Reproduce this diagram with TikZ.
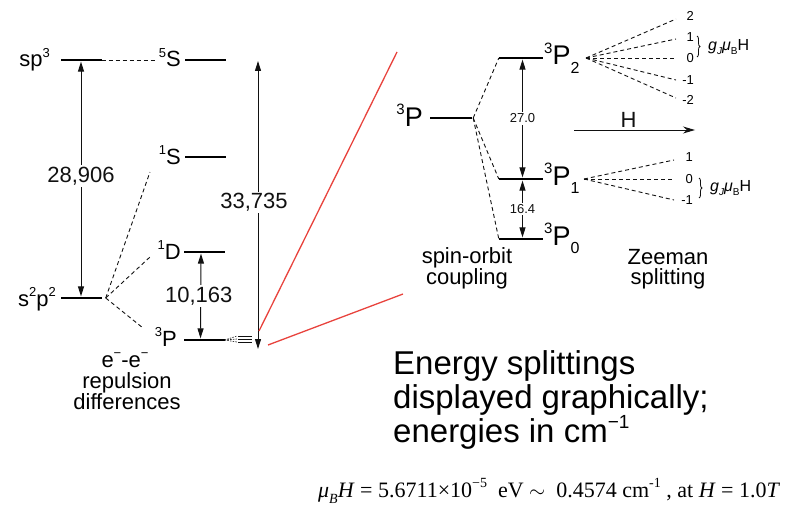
\documentclass[tikz,border=0pt]{standalone}
\usepackage{fontspec}
\setmainfont{Liberation Sans}
\newfontfamily\formulafont{Liberation Serif}
\usepackage{tikz}
\usetikzlibrary{arrows.meta,positioning,calc,decorations.pathreplacing}
\definecolor{zoomred}{HTML}{E8433D}
\definecolor{inkline}{HTML}{111111}
\newcommand{\fs}[1]{\fontsize{#1}{#1}\selectfont}
\newcommand{\supidx}[2]{\raisebox{0.42em}{\fs{#1}#2}}
\newcommand{\subidx}[2]{\raisebox{-0.3em}{\fs{#1}#2}}
\newcommand{\gmuH}{\fs{16}\textit{g}\raisebox{-0.25em}{\fs{10}\textit{J}}\textit{μ}\raisebox{-0.25em}{\fs{10}B}H}

\begin{document}
\begin{tikzpicture}[x=1pt,y=-1pt,font=\fs{22},
  termline/.style={fill=black,inner sep=0pt,minimum height=2.8pt,minimum width=#1},
  termline/.default=41pt,
  term/.style={inner sep=0pt},
  link/.style={inkline,dash pattern=on 4pt off 3pt,line width=0.9pt},
  gap/.style={inkline,{Triangle[length=10pt,width=6pt]}-{Triangle[length=10pt,width=6pt]},line width=1pt},
  gaplabel/.style={fill=white,inner sep=1.5pt},
  mlabel/.style={font=\fs{13},inner sep=0pt,anchor=east},
  zoomline/.style={zoomred,line width=1.3pt}]
  \useasboundingbox (0,0) rectangle (791,508);

  % configurations and e-e terms
  \node[termline] (sp3) at (81,60) {};
  \node[termline] (s2p2) at (81,298) {};
  \node[termline] (fiveS) at (205.5,60) {};
  \node[termline] (oneS) at (205.5,157) {};
  \node[termline] (oneD) at (204.5,252) {};
  \node[termline] (tripL) at (204,340) {};
  \node[term,anchor=base east] (sp3lbl) at (50,67) {sp\supidx{13}{3}};
  \node[term,anchor=base east] (s2p2lbl) at (56,306) {s\supidx{13}{2}p\supidx{13}{2}};
  \node[term,anchor=base east] (fiveSlbl) at (181,67) {\supidx{13}{5}S};
  \node[term,anchor=base east] (oneSlbl) at (181,164) {\supidx{13}{1}S};
  \node[term,anchor=base east] (oneDlbl) at (181,259) {\supidx{13}{1}D};
  \node[term,anchor=base east] (tripLlbl) at (177,346) {\supidx{13}{3}P};

  \coordinate[right=4pt of s2p2] (fanL);
  \coordinate (oneSend) at (150,172);
  \coordinate (oneDend) at (150,257);
  \coordinate (tripLend) at (143,328);
  \draw[link,shorten >=4pt] (sp3.east) -- (sp3.east -| fiveSlbl.west);
  \draw[link] (fanL) -- (oneSend);
  \draw[link] (fanL) -- (oneDend);
  \draw[link] (fanL) -- (tripLend);

  \draw[gap] (sp3.south) -- (s2p2.north) node[gaplabel,pos=0.487] (gapA) {28,906};
  \draw[gap] ([xshift=-3.5pt]oneD.south) -- ([xshift=-3.5pt]tripL.north)
    node[gaplabel,midway,xshift=-2pt] (gapB) {10,163};
  \coordinate (bigtop) at (258,61);
  \coordinate (bigbot) at (258,349);
  \draw[gap] (bigtop) -- (bigbot) node[gaplabel,pos=0.49,xshift=-4pt] (gapC) {33,735};

  % spin-orbit in miniature
  \foreach \yy in {336,339,342} {
    \draw[inkline,line width=0.8pt] (238,\yy) -- (252,\yy);
    \draw[inkline,dash pattern=on 1.5pt off 1.2pt,line width=0.6pt] (tripL.east) -- (237,\yy);
  }
  \coordinate (zoomA1) at (259,331);
  \coordinate (zoomA2) at (397,52);
  \coordinate (zoomB1) at (268,345);
  \coordinate (zoomB2) at (403,294);
  \draw[zoomline] (zoomA1) -- (zoomA2);
  \draw[zoomline] (zoomB1) -- (zoomB2);

  \node[term,anchor=base] (repA) at (125,367) {e\supidx{13}{−}-e\supidx{13}{−}};
  \node[term,anchor=base] (repB) at (127,388) {repulsion};
  \node[term,anchor=base] (repC) at (127,409) {differences};

  % spin-orbit coupling
  \node[termline=42pt] (rP) at (451,118) {};
  \node[termline=44pt] (rP2) at (521,58) {};
  \node[termline=44pt] (rP1) at (521,179) {};
  \node[termline=44pt] (rP0) at (521,239) {};
  \node[term,anchor=base east,font=\fs{27}] (rPlbl) at (423,126) {\supidx{15}{3}P};
  \node[term,anchor=base west,font=\fs{27}] (rP2lbl) at (544,65) {\supidx{15}{3}P\subidx{16}{2}};
  \node[term,anchor=base west,font=\fs{27}] (rP1lbl) at (544,185) {\supidx{15}{3}P\subidx{16}{1}};
  \node[term,anchor=base west,font=\fs{27}] (rP0lbl) at (544,245) {\supidx{15}{3}P\subidx{16}{0}};

  \coordinate[right=1pt of rP] (fanR);
  \draw[link] (fanR) -- (rP2.west);
  \draw[link] (fanR) -- (rP1.west);
  \draw[link] (fanR) -- (rP0.west);

  \draw[gap] ([xshift=1.5pt]rP2.south) -- ([xshift=1.5pt]rP1.north)
    node[gaplabel,midway,font=\fs{13}] (gapD) {27.0};
  \draw[gap] ([xshift=1.5pt]rP1.south) -- ([xshift=1.5pt]rP0.north)
    node[gaplabel,midway,font=\fs{13}] (gapE) {16.4};

  \node[term,anchor=base] (soA) at (467,263) {spin-orbit};
  \node[term,anchor=base] (soB) at (467,284) {coupling};

  % Zeeman
  \coordinate (Hstart) at (574,130);
  \coordinate (Hend) at (695,130);
  \draw[inkline,-{Stealth[length=12pt,width=7pt]},line width=1pt] (Hstart) -- (Hend)
    node[pos=0.45,anchor=base,yshift=3pt,inner sep=0pt] (Hlbl) {H};

  \coordinate (fanP2) at (586,58);
  \foreach \m/\yy/\ly in {2/19/16,1/39/37,0/58/58,-1/80/80,-2/98/100} {
    \coordinate (mtwo\m) at (676,\yy);
    \draw[link] (fanP2) -- (mtwo\m);
    \node[mlabel] (mtwolbl\m) at (694,\ly) {\m};
  }
  \draw[inkline,decorate,decoration={brace,amplitude=3pt},line width=0.8pt] (697,36) -- (697,57);
  \node[term,anchor=west] (gtwo) at (708,47) {\gmuH};

  \coordinate (fanP1) at (584,179);
  \foreach \m/\yy/\ly in {1/160/157,0/179/179,-1/200/200} {
    \coordinate (mone\m) at (674,\yy);
    \draw[link] (fanP1) -- (mone\m);
    \node[mlabel] (monelbl\m) at (693,\ly) {\m};
  }
  \draw[inkline,decorate,decoration={brace,amplitude=3pt},line width=0.8pt] (699,178) -- (699,198);
  \node[term,anchor=west] (gone) at (710,188) {\gmuH};

  \node[term,anchor=base] (zeA) at (668,264) {Zeeman};
  \node[term,anchor=base] (zeB) at (668,284) {splitting};

  % caption
  \node[term,anchor=base west,font=\fs{33}] (capA) at (393,374) {Energy splittings};
  \node[term,anchor=base west,font=\fs{33}] (capB) at (393,408) {displayed graphically;};
  \node[term,anchor=base west,font=\fs{33}] (capC) at (393,442) {energies in cm\supidx{19}{−1}};
  \node[term,anchor=base west,font={\formulafont\fs{22}}] (formula) at (318,497)
    {\textit{μ}\subidx{14}{\textit{B}}\textit{H}\ =\ 5.6711×10\supidx{14}{−5}\ \ eV\ $\sim$\ \ 0.4574 cm\supidx{14}{-1}\ , at \textit{H}\ =\ 1.0\textit{T}};
\end{tikzpicture}
\end{document}
